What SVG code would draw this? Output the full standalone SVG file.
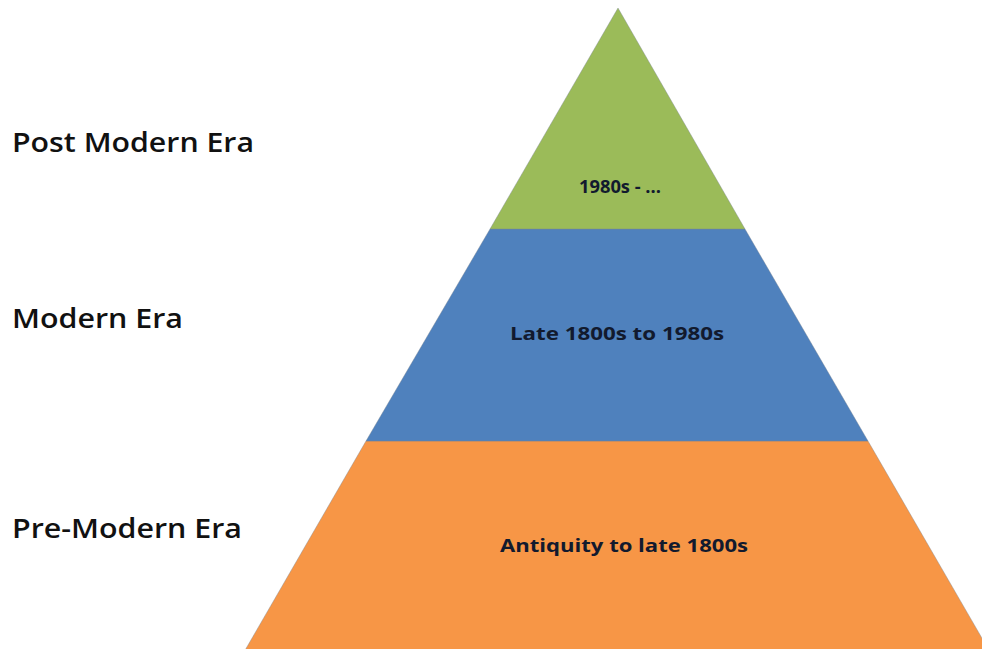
<svg xmlns="http://www.w3.org/2000/svg" width="982" height="649" viewBox="0 0 982 649">
<style>
.band{stroke:#7a8590;stroke-width:1;stroke-opacity:0.4}
.lbl{font-family:"Open Sans","Liberation Sans",sans-serif;font-weight:600;font-size:27px;fill:#111}
.in{font-family:"Open Sans","Liberation Sans",sans-serif;font-weight:700;font-size:18px;fill:#121a2e;text-anchor:middle}
</style>
<rect width="982" height="649" fill="#ffffff"/>
<g id="pre-modern">
<polygon class="band" fill="#F79646" points="366,441 868,441 990,652 244,652"/>
<text class="in" x="624" y="552" textLength="248" lengthAdjust="spacingAndGlyphs">Antiquity to late 1800s</text>
</g>
<g id="modern">
<polygon class="band" fill="#4F81BD" points="490,229 745,229 868,441 366,441"/>
<text class="in" x="617" y="340" textLength="214" lengthAdjust="spacingAndGlyphs">Late 1800s to 1980s</text>
</g>
<g id="post-modern">
<polygon class="band" fill="#9BBB59" points="618,8 745,229 490,229"/>
<text class="in" x="620" y="193" textLength="82" lengthAdjust="spacingAndGlyphs">1980s - ...</text>
</g>
<g id="labels">
<text class="lbl" x="12" y="152" textLength="242" lengthAdjust="spacingAndGlyphs">Post Modern Era</text>
<text class="lbl" x="12" y="328" textLength="171" lengthAdjust="spacingAndGlyphs">Modern Era</text>
<text class="lbl" x="12" y="538" textLength="230" lengthAdjust="spacingAndGlyphs">Pre-Modern Era</text>
</g>
<g id="connectors"/>
</svg>
